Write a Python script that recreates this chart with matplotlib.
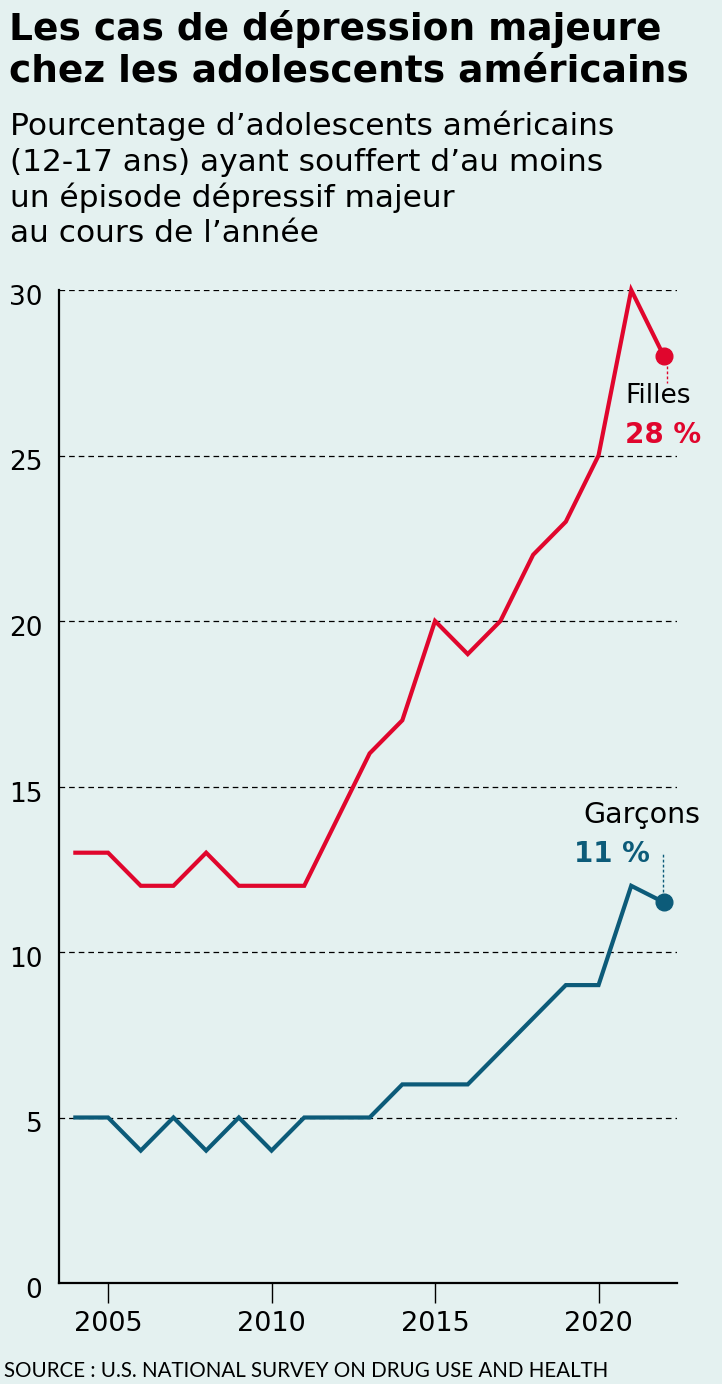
import matplotlib
matplotlib.use("Agg")
import matplotlib.pyplot as plt
from matplotlib.transforms import ScaledTranslation

# data
years = list(range(2004, 2023))
filles = [13, 13, 12, 12, 13, 12, 12, 12, 14, 16, 17, 20, 19, 20, 22, 23, 25, 30, 28]
garcons = [5, 5, 4, 5, 4, 5, 4, 5, 5, 5, 6, 6, 6, 7, 8, 9, 9, 12, 11.5]
yticks = [0, 5, 10, 15, 20, 25, 30]
xticks = [2005, 2010, 2015, 2020]

BG = "#e4f1f0"
RED = "#e0062d"
BLUE = "#0c5b79"
W, H = 722, 1384

plt.rcParams['font.family'] = ['DejaVu Sans']

fig = plt.figure(figsize=(W / 100, H / 100), dpi=100, facecolor=BG)


def px(x, y):
    return x / W, 1 - y / H


ax = fig.add_axes([59 / W, (H - 1283) / H, (677 - 59) / W, (1283 - 290) / H])
ax.set_facecolor(BG)
ax.set_xlim(2003.5, 2022.4)
ax.set_ylim(0, 30)

for v in yticks[1:]:
    ax.axhline(v, color="black", lw=0.9, ls=(0, (4.5, 3.2)), zorder=1)

ax.plot(years, filles, color=RED, lw=3, clip_on=False, zorder=3,
        solid_joinstyle="miter")
ax.plot(years, garcons, color=BLUE, lw=3, clip_on=False, zorder=3,
        solid_joinstyle="miter")
ax.plot(years[-1], filles[-1], "o", color=RED, ms=12, clip_on=False, zorder=4)
ax.plot(years[-1], garcons[-1], "o", color=BLUE, ms=12, clip_on=False, zorder=4)

# leader lines to the labels
ax.plot([years[-1] + 0.08, years[-1] + 0.08], [filles[-1], 27.2],
        color=RED, lw=1, ls=(0, (2, 1.6)), clip_on=False, zorder=2)
ax.plot([years[-1] - 0.03, years[-1] - 0.03], [garcons[-1], 13.0],
        color=BLUE, lw=1, ls=(0, (2, 1.6)), clip_on=False, zorder=2)

for s in ["top", "right"]:
    ax.spines[s].set_visible(False)
for s in ["left", "bottom"]:
    ax.spines[s].set_linewidth(1.6)
    ax.spines[s].set_color("black")

ax.set_yticks(yticks)
ax.set_yticklabels([str(v) for v in yticks])
ax.tick_params(axis="y", length=0, pad=12, labelsize=19)
ax.set_xticks(xticks)
ax.tick_params(axis="x", length=14.5, width=1, direction="out", pad=6,
               labelsize=19.5)
shift = ScaledTranslation(0, -5 / 100, fig.dpi_scale_trans)
for lab in ax.get_yticklabels():
    lab.set_transform(lab.get_transform() + shift)

fig.text(*px(625, 403), "Filles", fontsize=19, ha="left", va="baseline")
fig.text(*px(625, 443), "28 %", fontsize=20, fontweight="bold", color=RED,
         ha="left", va="baseline")
fig.text(*px(583, 823), "Garçons", fontsize=20.5, ha="left", va="baseline")
fig.text(*px(650, 862), "11 %", fontsize=20, fontweight="bold", color=BLUE,
         ha="right", va="baseline")

title = ["Les cas de dépression majeure", "chez les adolescents américains"]
for line, y in zip(title, [40, 82]):
    fig.text(*px(9, y), line, fontsize=27, fontweight="bold",
             ha="left", va="baseline")

sub = ["Pourcentage d\u2019adolescents américains",
       "(12-17 ans) ayant souffert d\u2019au moins",
       "un épisode dépressif majeur",
       "au cours de l\u2019année"]
for line, y in zip(sub, [135, 171, 207, 242]):
    fig.text(*px(10, y), line, fontsize=22.5, ha="left", va="baseline")

fig.text(*px(4, 1377), "SOURCE : U.S. NATIONAL SURVEY ON DRUG USE AND HEALTH",
         fontsize=14.8, va="baseline", ha="left", family=["Lato", "DejaVu Sans"])

fig.savefig("out.png", dpi=100, facecolor=BG)
